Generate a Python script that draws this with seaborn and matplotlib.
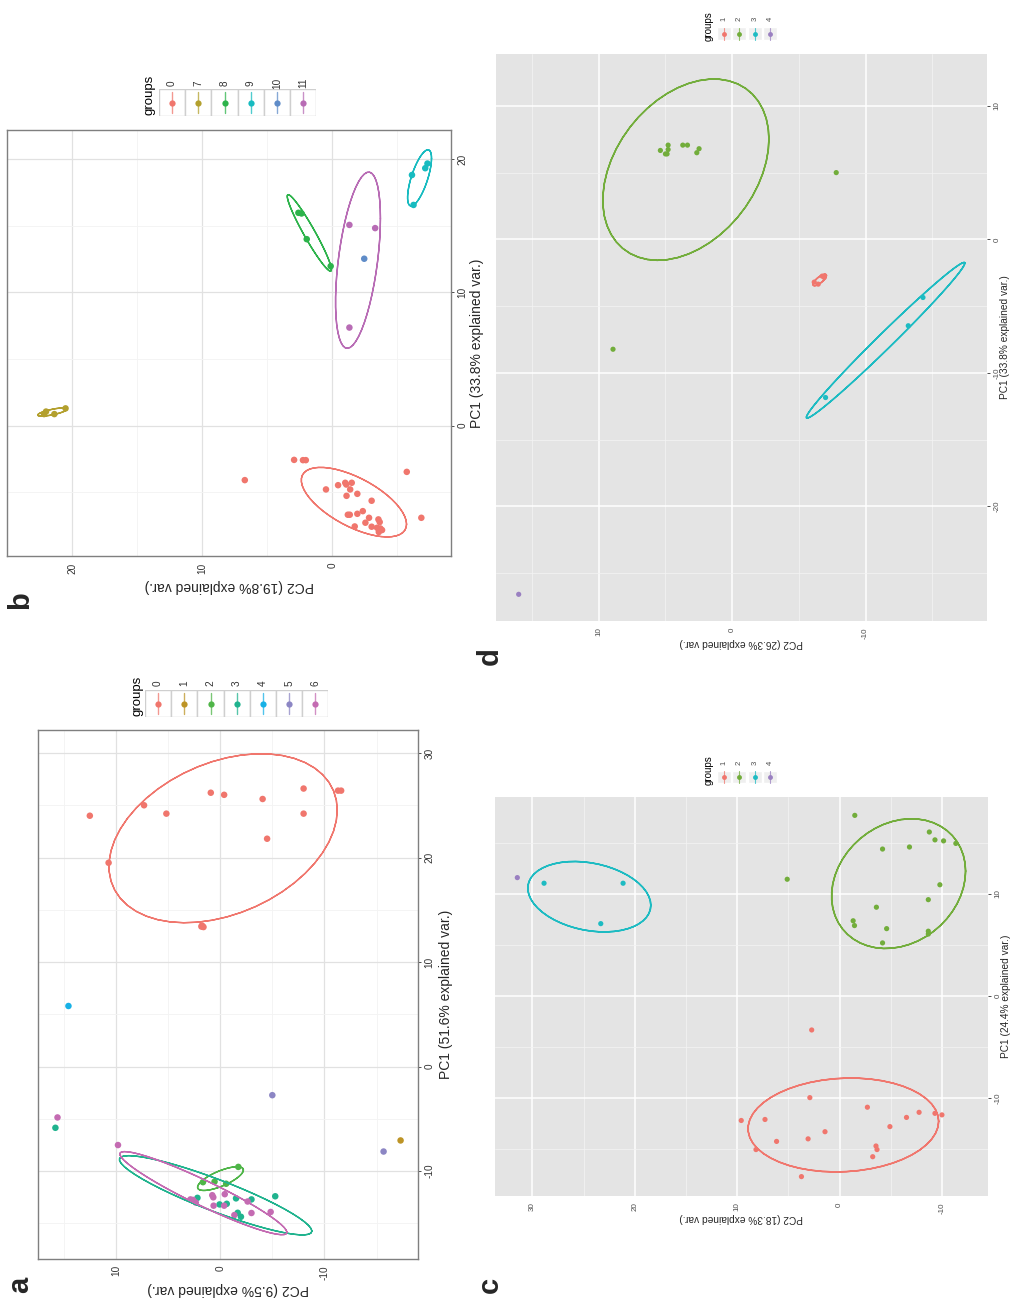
import numpy as np
import pandas as pd
import matplotlib
matplotlib.use("Agg")
import matplotlib.pyplot as plt
import seaborn as sns
from matplotlib.patches import Rectangle

# ---------------- data ----------------
# panel a : PC1 (51.6%) / PC2 (9.5%)
a_groups = ["0", "1", "2", "3", "4", "5", "6"]
a_grp = (["0"] * 16 + ["1"] + ["2"] * 4 + ["3"] * 9 + ["4"] + ["5"] * 2 + ["6"] * 14)
a_pc2 = [12.5, 7.3, 5.16, 0.9, -0.38, 10.7, 1.8, 1.67, 1.75, 1.6, -4.07, -4.5, -8.0, -8.0, -11.3, -11.6,
         -17.3,
         -1.74, -0.57, 0.54, 1.65,
         15.8, 2.18, 0.06, -0.63, -1.52, -3.0, -5.28, -1.68, -1.99,
         14.55,
         -5.0, -15.67,
         15.6, 9.8, 2.85, 2.6, 2.34, 0.76, 0.66, -0.44, 0.63, -0.38, -2.63, -3.0, -1.36, -4.84]
a_pc1 = [24.0, 25.0, 24.2, 26.2, 26.0, 19.5, 13.4, 13.4, 13.5, 13.35, 25.6, 21.8, 26.6, 24.2, 26.4, 26.4,
         -7.06,
         -9.59, -11.2, -11.0, -11.05,
         -5.85, -12.55, -13.18, -13.12, -12.6, -12.7, -12.4, -13.98, -14.36,
         5.8,
         -2.73, -8.12,
         -4.86, -7.5, -12.7, -12.75, -13.0, -12.3, -12.5, -12.2, -13.3, -13.3, -12.9, -14.0, -14.2, -13.9]

# panel b : PC1 (33.8%) / PC2 (19.8%)
b_groups = ["0", "7", "8", "9", "10", "11"]
b_grp = ["0"] * 29 + ["7"] * 4 + ["8"] * 4 + ["9"] * 4 + ["10"] + ["11"] * 3
b_pc2 = [6.72, 2.93, 2.25, 2.03, -5.73, -6.85, 0.48, -0.45, -1.0, -1.08, -1.5, -1.38, -1.1, -1.93, -3.03,
         -2.35, -1.2, -1.35, -1.93, -2.83, -2.55, -1.73, -3.03, -3.55, -3.65, -3.45, -3.7, -3.83, -3.58,
         22.15, 22.0, 21.36, 20.5,
         2.6, 2.36, 1.96, 0.12,
         -6.13, -7.15, -7.32, -6.25,
         -2.46,
         -1.32, -3.3, -1.32]
b_pc1 = [-4.1, -2.58, -2.6, -2.6, -3.48, -6.93, -4.8, -4.48, -4.3, -4.43, -4.3, -4.8, -5.28, -5.13, -5.65,
         -6.43, -6.7, -6.7, -6.63, -6.93, -7.3, -7.58, -7.6, -7.05, -7.25, -7.68, -7.73, -7.85, -8.0,
         0.86, 1.05, 0.86, 1.29,
         15.98, 15.93, 14.0, 11.97,
         18.82, 19.33, 19.68, 16.57,
         12.53,
         15.07, 14.83, 7.36]

# panel c : PC1 (24.4%) / PC2 (18.3%)
c_groups = ["1", "2", "3", "4"]
c_grp = ["1"] * 18 + ["2"] * 17 + ["3"] * 3 + ["4"]
c_pc2 = [9.6, 7.28, 8.16, 6.15, 3.72, 3.07, 2.9, 1.42, 2.72, -2.72, -3.56, -3.66, -3.24, -4.92, -6.54,
         -7.77, -9.32, -10.0,
         5.11, -1.49, -4.2, -6.83, -8.77, -9.32, -10.16, -11.36, -9.8, -8.67, -3.6, -1.33, -1.46, -4.6,
         -8.67, -8.67, -4.2,
         28.86, 21.14, 23.32,
         31.47]
c_pc1 = [-12.2, -12.1, -15.05, -14.25, -17.7, -14.0, -9.96, -13.3, -3.33, -10.9, -14.7, -15.05, -15.75,
         -12.8, -11.9, -11.4, -11.5, -11.65,
         11.44, 17.7, 14.4, 14.6, 16.07, 15.3, 15.2, 14.95, 10.9, 9.44, 8.7, 7.37, 6.9, 6.6, 6.35, 6.07, 5.2,
         11.05, 11.05, 7.09,
         11.6]

# panel d : PC1 (33.8%) / PC2 (26.3%)
d_groups = ["1", "2", "3", "4"]
d_grp = ["1"] * 4 + ["2"] * 11 + ["3"] * 3 + ["4"]
d_pc2 = [-6.15, -6.45, -6.9, -6.75,
         5.38, 4.8, 4.8, 4.88, 5.0, 3.7, 3.35, 2.48, 2.65, 8.93, -7.8,
         -14.3, -13.2, -7.0,
         16.0]
d_pc1 = [-3.2, -3.35, -2.85, -2.75,
         6.67, 7.07, 6.74, 6.41, 6.41, 7.07, 7.07, 6.8, 6.5, -8.23, 5.01,
         -4.35, -6.47, -11.85,
         -26.6]

a_colors = ["#F0766D", "#BD9426", "#4FB548", "#20B38E", "#17B1E6", "#8C86C4", "#C46BB2"]
b_colors = ["#F0766D", "#B3A02E", "#2DB34B", "#17BBC0", "#5F8CC8", "#B86CB5"]
cd_colors = ["#F0766D", "#72AD3B", "#1DBBC2", "#9A80C1"]

# ---------------- helpers ----------------
W, H = 1013, 1301
fig = plt.figure(figsize=(W / 100, H / 100), dpi=100)
sns.set_style("white")
plt.rcParams["font.family"] = ["Liberation Sans", "DejaVu Sans"]

theta = np.concatenate([np.linspace(-np.pi, np.pi, 50), np.linspace(np.pi, -np.pi, 50)])
circle = np.column_stack([np.cos(theta), np.sin(theta)])
ed = np.sqrt(-2 * np.log(1 - 0.68))  # sqrt(qchisq(0.68, 2))


def add_px_axes(x0, y0, x1, y1):
    return fig.add_axes([x0 / W, 1 - y1 / H, (x1 - x0) / W, (y1 - y0) / H])


def ftext(x, y, s, **kw):
    fig.text(x / W, 1 - y / H, s, **kw)


def draw_panel(box, pc2, pc1, grp, groups, colors, grey, xlim, ylim, xmaj, xmin, ymaj, ymin,
               xlab, ylab, xlab_y, ylab_x, fs_tick, fs_lab, psize, lw):
    ax = add_px_axes(*box)
    df = pd.DataFrame({"PC2": pc2, "PC1": pc1, "group": grp})
    pal = dict(zip(groups, colors))
    sns.scatterplot(data=df, x="PC2", y="PC1", hue="group", hue_order=groups, palette=pal,
                    s=psize, linewidth=0, legend=False, ax=ax, zorder=3)
    # normal data ellipses (68%), as ggbiplot draws them
    for g in groups:
        sub = df[df["group"] == g]
        if len(sub) <= 2:
            continue
        xy = np.column_stack([sub["PC2"].to_numpy(), sub["PC1"].to_numpy()])
        sigma = np.cov(xy.T)
        U = np.linalg.cholesky(sigma).T
        path = circle @ U * ed + xy.mean(axis=0)
        ax.plot(path[:, 0], path[:, 1], color=pal[g], lw=lw, zorder=4)
    ax.set_xlim(*xlim)
    ax.set_ylim(*ylim)
    ax.set_xticks(xmaj)
    ax.set_xticks(xmin, minor=True)
    ax.set_yticks(ymaj)
    ax.set_yticks(ymin, minor=True)
    ax.set_xticklabels([str(v) for v in xmaj])
    ax.set_yticklabels([str(v) for v in ymaj])
    ax.set_axisbelow(True)
    if grey:
        ax.set_facecolor("#E4E4E4")
        ax.grid(which="major", color="white", lw=1.1)
        ax.grid(which="minor", color="#F3F3F3", lw=0.55)
        for sp in ax.spines.values():
            sp.set_visible(False)
        tcol = "#4D4D4D"
    else:
        ax.set_facecolor("white")
        ax.grid(which="major", color="#E1E1E1", lw=0.9)
        ax.grid(which="minor", color="#F3F3F3", lw=0.6)
        for sp in ax.spines.values():
            sp.set_color("#7F7F7F")
            sp.set_linewidth(1.0)
        tcol = "#333333"
    ax.yaxis.tick_right()
    ax.tick_params(which="major", length=2.5, width=0.6, color="#333333", pad=2,
                   labelsize=fs_tick, labelcolor=tcol)
    ax.tick_params(which="minor", length=0)
    ax.tick_params(axis="x", labelrotation=90)
    ax.tick_params(axis="y", labelrotation=90)
    for t in ax.get_yticklabels():
        t.set_va("center")
    ax.yaxis.set_label_position("right")
    ax.set_xlabel(xlab, rotation=180, fontsize=fs_lab, va="center", ha="center")
    ax.set_ylabel(ylab, rotation=90, fontsize=fs_lab, va="center", ha="center")
    x0, y0, x1, y1 = box
    ax.xaxis.set_label_coords(0.5, (y1 - xlab_y) / (y1 - y0))
    ax.yaxis.set_label_coords((ylab_x - x0) / (x1 - x0), 0.5)
    return ax


def draw_legend(groups, colors, title_xy, x0, ky0, ky1, kw, num_y, fs_title, fs_num, grey, msize, lw):
    lax = add_px_axes(x0, ky0, x0 + kw * len(groups), ky1)
    lax.set_xlim(0, kw * len(groups))
    lax.set_ylim(ky1 - ky0, 0)
    lax.axis("off")
    h = ky1 - ky0
    for i, (g, c) in enumerate(zip(groups, colors)):
        if grey:
            lax.add_patch(Rectangle((i * kw + 0.6, 0.6), kw - 1.2, h - 1.2, facecolor="#EFEFEF",
                                    edgecolor="white", lw=1.0))
        else:
            lax.add_patch(Rectangle((i * kw, 0), kw, h, facecolor="white", edgecolor="#CFCFCF", lw=1.0))
        lax.plot([i * kw + kw / 2] * 2, [h * 0.1, h * 0.9], color=c, lw=lw, alpha=0.75)
        lax.plot([i * kw + kw / 2], [h / 2], "o", color=c, ms=msize, mew=0)
        ftext(x0 + i * kw + kw / 2, num_y, g, rotation=90, ha="center", va="center",
              fontsize=fs_num, color="#333333" if not grey else "#4D4D4D")
    ftext(title_xy[0], title_xy[1], "groups", rotation=90, ha="center", va="center",
          fontsize=fs_title, color="black")


# ---------------- panels ----------------
draw_panel((38, 730, 418, 1259), a_pc2, a_pc1, a_grp, a_groups, a_colors, False,
           (17.47, -18.97), (-18.4, 32.2), [10, 0, -10], [15, 5, -5, -15],
           [-10, 0, 10, 20, 30], [-15, -5, 5, 15, 25],
           "PC2 (9.5% explained var.)", "PC1 (51.6% explained var.)", 1289, 446,
           7.2, 10, 22, 1.0)
draw_legend(a_groups, a_colors, (137, 696), 145, 690, 717, 26.2, 683, 9.5, 7.2, False, 4.5, 1.0)

draw_panel((7, 130, 451, 556), b_pc2, b_pc1, b_grp, b_groups, b_colors, False,
           (24.1, -9.13), (-9.8, 22.2), [20, 10, 0], [25, 15, 5, -5],
           [0, 10, 20], [-5, 5, 15],
           "PC2 (19.8% explained var.)", "PC1 (33.8% explained var.)", 586, 477,
           7.2, 10, 22, 1.0)
draw_legend(b_groups, b_colors, (150, 95), 159, 89, 116, 26.2, 83, 9.5, 7.2, False, 4.5, 1.0)

draw_panel((495, 797, 988, 1196), c_pc2, c_pc1, c_grp, c_groups, cd_colors, True,
           (33.65, -14.5), (-19.6, 19.5), [30, 20, 10, 0, -10], [25, 15, 5, -5],
           [-10, 0, 10], [-15, -5, 5, 15],
           "PC2 (18.3% explained var.)", "PC1 (24.4% explained var.)", 1218, 1006,
           5.8, 7.3, 14, 1.1)
draw_legend(c_groups, cd_colors, (709, 770), 716, 770, 784, 15.5, 763, 7.0, 5.5, True, 3.5, 0.8)

draw_panel((496, 54, 987, 621), d_pc2, d_pc1, d_grp, d_groups, cd_colors, True,
           (17.7, -19.1), (-28.6, 13.9), [10, 0, -10], [15, 5, -5, -15],
           [-20, -10, 0, 10], [-25, -15, -5, 5],
           "PC2 (26.3% explained var.)", "PC1 (33.8% explained var.)", 643, 1005,
           5.8, 7.3, 14, 1.1)
draw_legend(d_groups, cd_colors, (709, 26), 716, 26, 41, 15.5, 19, 7.0, 5.5, True, 3.5, 0.8)

# panel letters
for lab, (x, y) in {"a": (20, 1285), "b": (20, 600), "c": (490, 1285), "d": (490, 656)}.items():
    ftext(x, y, lab, rotation=90, ha="center", va="center", fontsize=21, fontweight="bold")

fig.savefig("out.png", dpi=100)
